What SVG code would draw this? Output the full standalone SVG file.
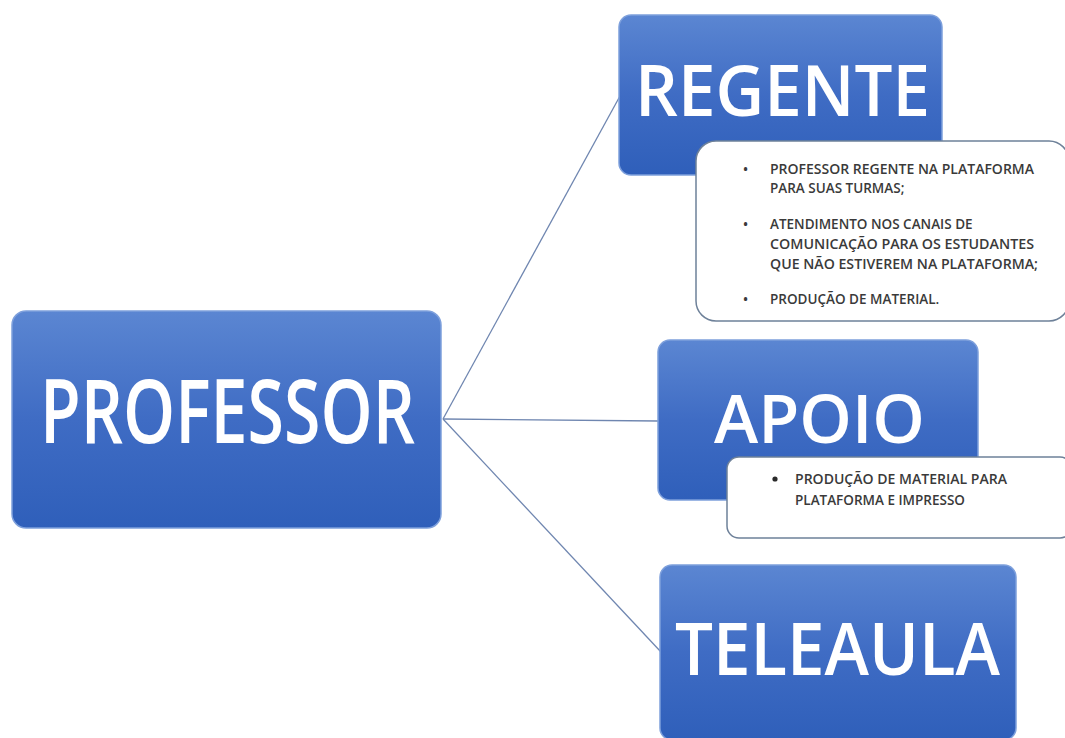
<svg xmlns="http://www.w3.org/2000/svg" width="1065" height="738" viewBox="0 0 1065 738">
<defs>
<linearGradient id="blue" x1="0" y1="0" x2="0" y2="1">
<stop offset="0" stop-color="#5b86d2"/>
<stop offset="0.5" stop-color="#3f6cc4"/>
<stop offset="1" stop-color="#2f5fba"/>
</linearGradient>
<style>
.box{fill:url(#blue);stroke:#7ea0dc;stroke-width:1.5}
.big{font-family:"Open Sans","Noto Sans",sans-serif;font-weight:600;fill:#ffffff}
.card{fill:#ffffff;stroke:#6e8199;stroke-width:1.5}
.item{font-family:"Open Sans","Noto Sans",sans-serif;font-size:13.5px;font-weight:600;fill:#3a3a3a}
.conn{stroke:#6f86b0;stroke-width:1.3;fill:none}
</style>
</defs>
<rect width="1065" height="738" fill="#ffffff"/>
<g id="connectors">
<line class="conn" x1="443" y1="419" x2="620" y2="96"/>
<line class="conn" x1="443" y1="419" x2="658" y2="421"/>
<line class="conn" x1="443" y1="419" x2="661" y2="652"/>
</g>
<g id="professor">
<rect class="box" x="12" y="311" width="429" height="217" rx="14"/>
<text class="big" x="40" y="443" font-size="88" textLength="375" lengthAdjust="spacingAndGlyphs">PROFESSOR</text>
</g>
<g id="regente">
<rect class="box" x="619" y="15" width="323" height="160" rx="12"/>
<text class="big" x="635" y="116" font-size="71" textLength="295" lengthAdjust="spacingAndGlyphs">REGENTE</text>
</g>
<g id="regente-detalhes">
<rect class="card" x="696" y="141" width="373" height="180" rx="20"/>
<text class="item" x="743" y="174">•</text>
<text class="item" x="770" y="174" textLength="264" lengthAdjust="spacingAndGlyphs">PROFESSOR REGENTE NA PLATAFORMA</text>
<text class="item" x="770" y="193">PARA SUAS TURMAS;</text>
<text class="item" x="743" y="229">•</text>
<text class="item" x="770" y="229">ATENDIMENTO NOS CANAIS DE</text>
<text class="item" x="770" y="249" textLength="264" lengthAdjust="spacingAndGlyphs">COMUNICAÇÃO PARA OS ESTUDANTES</text>
<text class="item" x="770" y="269" textLength="268" lengthAdjust="spacingAndGlyphs">QUE NÃO ESTIVEREM NA PLATAFORMA;</text>
<text class="item" x="743" y="304">•</text>
<text class="item" x="770" y="304">PRODUÇÃO DE MATERIAL.</text>
</g>
<g id="apoio">
<rect class="box" x="658" y="340" width="320" height="160" rx="12"/>
<text class="big" x="714" y="443" font-size="67" textLength="211" lengthAdjust="spacingAndGlyphs">APOIO</text>
</g>
<g id="apoio-detalhes">
<rect class="card" x="727" y="457" width="345" height="81" rx="12"/>
<circle cx="775" cy="479" r="2.6" fill="#2a2a2a"/>
<text class="item" x="795" y="484" textLength="212" lengthAdjust="spacingAndGlyphs">PRODUÇÃO DE MATERIAL PARA</text>
<text class="item" x="795" y="505">PLATAFORMA E IMPRESSO</text>
</g>
<g id="teleaula">
<rect class="box" x="660" y="565" width="356" height="175" rx="12"/>
<text class="big" x="675" y="675" font-size="73" textLength="325" lengthAdjust="spacingAndGlyphs">TELEAULA</text>
</g>
</svg>
